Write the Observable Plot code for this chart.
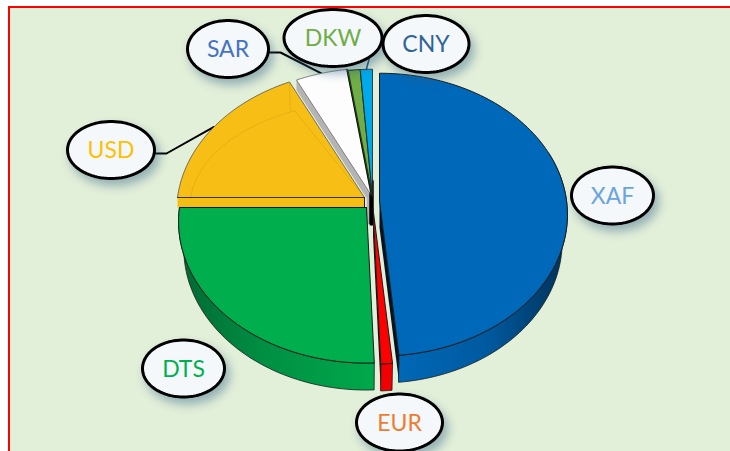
<!DOCTYPE html>
<html>
<head>
<meta charset="utf-8">
<script src="https://cdn.jsdelivr.net/npm/d3@7"></script>
<script src="https://cdn.jsdelivr.net/npm/@observablehq/plot@0.6"></script>
<style>html,body{margin:0;padding:0;background:#fff}svg{display:block}</style>
</head>
<body>
<div id="chart"></div>
<script>
// ---- data (share of total, %) ----
const currencies = ["XAF", "EUR", "DTS", "USD", "SAR", "DKW", "CNY"];
const shares = [48.5, 0.9, 25.6, 17.8, 4.9, 1.15, 1.15];
const sliceColors = ["#0068B8", "#FF0000", "#00AE4E", "#F7BF15", "#FDFDFD", "#70AD47", "#00A9EA"];
const labelColors = ["#6AA5DE", "#ED7D31", "#00B050", "#FFC000", "#4472C4", "#70AD47", "#2F6496"];

// ---- layout of the exploded perspective pie ----
const sliceCx = [379, 372.5, 366, 364, 371, 372, 372];
const sliceCy = [200, 208, 207, 197, 195, 196, 196];
const labelCx = [612, 399, 183, 110.5, 227.5, 332.5, 425.5];
const labelCy = [195, 422, 368, 149.5, 48.5, 37.5, 43.5];
const labelRx = [41, 43, 41, 43.5, 40.5, 49, 43];
const RX = 187, RY = 140, K = 0.1, DEPTH = 27, BAND = 10, RIM = 0.972;

const total = d3.sum(shares);
let running = 0;
const slices = currencies.map((name, i) => {
  const t0 = running / total * 360;
  running += shares[i];
  return {name, i, t0, t1: running / total * 360, cx: sliceCx[i], cy: sliceCy[i], color: sliceColors[i]};
});
const rad = d => d * Math.PI / 180;
function outer(s, t, fx = 1, fy = 1) {
  const u = Math.sin(rad(t)), v = -Math.cos(rad(t)), p = 1 / (1 - K * v);
  return {x: s.cx + RX * fx * u * p, y: s.cy + RY * fy * v * p};
}
function arc(s, a, b, fx = 1, fy = 1) {
  const n = Math.max(2, Math.ceil(Math.abs(b - a) / 1.5));
  return d3.range(n + 1).map(j => outer(s, a + (b - a) * j / n, fx, fy));
}
const down = (pts, d) => pts.map(p => ({x: p.x, y: p.y + d}));
const apex = s => ({x: s.cx, y: s.cy});
const close = pts => [...pts, pts[0]];
const shape = (pts, o) => Plot.line(close(pts), {x: "x", y: "y", strokeLinejoin: "round", ...o});
const path = (pts, o) => Plot.line(pts, {x: "x", y: "y", ...o});
const EDGE = {stroke: "#1c1c1c", strokeWidth: 1};

function wall(s, a, b, d, fill) {
  const top = arc(s, a, b);
  const rim = down(arc(s, a, b, RIM), d);
  return shape([...top, ...rim.reverse()], {fill, stroke: "#1c1c1c", strokeWidth: 0.8});
}
function cutFace(s, t, d, fill) {
  const o = outer(s, t), c = apex(s);
  return shape([c, o, {x: o.x, y: o.y + d}, {x: c.x, y: c.y + d}], {fill, stroke: "none"});
}
const face = (s, o = {}) => shape([apex(s), ...arc(s, s.t0, s.t1)], {fill: s.color, ...EDGE, ...o});

const [XAF, EUR, DTS, USD, SAR, DKW, CNY] = slices;

function ellipse(i) {
  return d3.range(0, 360, 4).map(t => ({
    x: labelCx[i] + labelRx[i] * Math.cos(rad(t)),
    y: labelCy[i] + 28.5 * Math.sin(rad(t))
  }));
}
function leader(i, frac) {
  const s = slices[i];
  const end = outer(s, s.t0 + (s.t1 - s.t0) * frac);
  const sx = labelCx[i] + labelRx[i], sy = labelCy[i] + 3.5;
  return [{x: sx, y: sy}, {x: sx + 12, y: sy}, end];
}
const defs = () => {
  const svgNS = "http://www.w3.org/2000/svg";
  const d = document.createElementNS(svgNS, "defs");
  const grad = (id, x1, x2, stops) => {
    const g = document.createElementNS(svgNS, "linearGradient");
    g.setAttribute("id", id);
    g.setAttribute("gradientUnits", "userSpaceOnUse");
    g.setAttribute("x1", x1); g.setAttribute("x2", x2);
    g.setAttribute("y1", 0); g.setAttribute("y2", 0);
    stops.forEach(([o, c]) => {
      const st = document.createElementNS(svgNS, "stop");
      st.setAttribute("offset", o); st.setAttribute("stop-color", c);
      g.appendChild(st);
    });
    d.appendChild(g);
  };
  grad("wallBlue", 400, 562, [[0, "#0068B6"], [0.55, "#00599E"], [1, "#00345C"]]);
  grad("wallGreen", 190, 372, [[0, "#006E34"], [0.4, "#008F43"], [1, "#00A84B"]]);
  return d;
};

const chart = Plot.plot({
  width: 730, height: 451,
  margin: 0,
  x: {domain: [0, 730], range: [0, 730], axis: null},
  y: {domain: [0, 451], range: [0, 451], axis: null},
  style: {background: "#fff", fontFamily: "Lato, sans-serif"},
  marks: [
    defs,
    Plot.rect([{a: 9, b: 760, c: 7, d: 480}], {x1: "a", x2: "b", y1: "c", y2: "d", fill: "#E2EFD9", stroke: "#FF0000", strokeWidth: 2}),

    // back slices
    path(leader(3, 0.5), {stroke: "#000", strokeWidth: 2}),
    path(leader(4, 0.5), {stroke: "#000", strokeWidth: 2}),
    path([{x: outer(CNY, (CNY.t0 + CNY.t1) / 2).x + 3, y: labelCy[6] + 14}, outer(CNY, (CNY.t0 + CNY.t1) / 2)], {stroke: "#1f4e79", strokeWidth: 1.5}),

    cutFace(USD, USD.t0, BAND, "#F5BE17"),
    path([outer(USD, USD.t0), apex(USD)], EDGE),
    face(USD, {stroke: "#555", strokeWidth: 0.8}),
    path(arc(USD, USD.t0, USD.t1, 0.93, 0.75), {stroke: "#B88A10", strokeOpacity: 0.3, strokeWidth: 1}),
    path([outer(USD, USD.t1, 0.93, 0.75), apex(USD)], {stroke: "#B88A10", strokeOpacity: 0.3, strokeWidth: 1}),
    path([outer(USD, USD.t1), outer(USD, USD.t1, 0.99, 0.75)], {stroke: "#B88A10", strokeOpacity: 0.3, strokeWidth: 1}),
    path([apex(USD), outer(USD, USD.t0)], {stroke: "#333", strokeWidth: 1.2}),
    path([{x: USD.cx, y: USD.cy}, {x: USD.cx, y: USD.cy + BAND}], {stroke: "#222", strokeWidth: 1}),

    cutFace(SAR, SAR.t0, BAND, "#B4B4B4"),
    path([{x: SAR.cx - 3, y: SAR.cy}, {x: SAR.cx - 3, y: SAR.cy + DEPTH}], {stroke: "#B4B4B4", strokeWidth: 3.5}),
    path([{x: CNY.cx - 1, y: CNY.cy - 15}, {x: CNY.cx - 1, y: CNY.cy + DEPTH}], {stroke: "#000", strokeWidth: 4.5}),
    face(SAR, {stroke: "#666", strokeWidth: 0.8}),
    path([outer(SAR, SAR.t1), apex(SAR)], {stroke: "#111", strokeWidth: 1.5}),
    face(DKW, {stroke: "#1c3a12", strokeWidth: 1.2}),
    face(CNY, {stroke: "#1c1c1c", strokeWidth: 0.8}),

    // front slices
    wall(DTS, DTS.t0, 270, DEPTH, "url(#wallGreen)"),
    path([{x: DTS.cx, y: DTS.cy}, {x: DTS.cx, y: DTS.cy + DEPTH}], {stroke: "#1c1c1c", strokeWidth: 1}),
    face(DTS),
    wall(EUR, EUR.t0, EUR.t1, DEPTH, "#F00000"),
    cutFace(EUR, EUR.t1, DEPTH, "#111"),
    face(EUR),
    cutFace(XAF, XAF.t1, DEPTH, "#04131f"),
    wall(XAF, 70, XAF.t1, DEPTH, "url(#wallBlue)"),
    face(XAF),

    // labels
    ...currencies.map((_, i) => shape(ellipse(i), {
      fill: "#F4F8FA", stroke: "#000", strokeWidth: 3,
      imageFilter: "drop-shadow(4px 6px 5px rgba(40,90,130,0.42))"
    })),
    ...currencies.map((name, i) => Plot.text([name], {
      x: () => labelCx[i], y: () => labelCy[i] + 1,
      text: d => d, fill: labelColors[i], fontSize: 23, fontFamily: "Lato, sans-serif"
    }))
  ]
});
document.getElementById("chart").appendChild(chart);
</script>
</body>
</html>
